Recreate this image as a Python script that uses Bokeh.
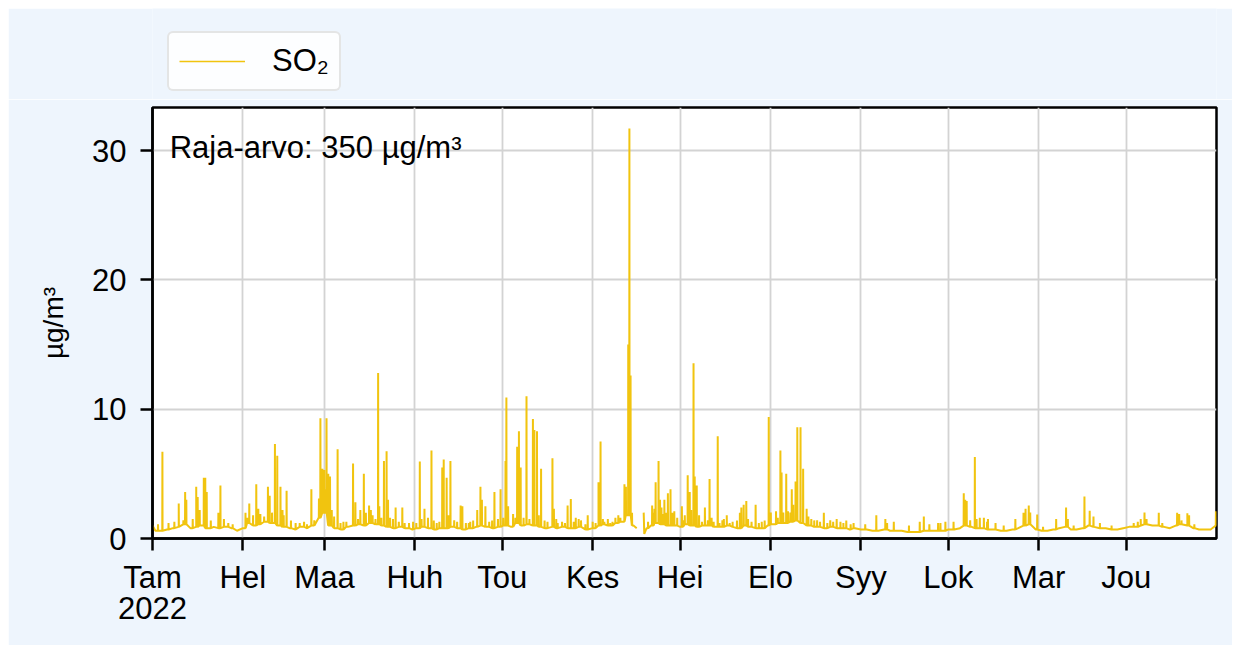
import numpy as np
from bokeh.plotting import figure
from bokeh.layouts import column
from bokeh.models import Range1d, FixedTicker, Label, Legend, LegendItem, ColumnDataSource
from bokeh.embed import file_html
from bokeh.resources import INLINE

# ---------------- data (day of year 2022, 0 = 1 Jan) ----------------
month_labels = ["Tam", "Hel", "Maa", "Huh", "Tou", "Kes", "Hei", "Elo", "Syy", "Lok", "Mar", "Jou"]
month_start_day = [0, 31, 59, 90, 120, 151, 181, 212, 243, 273, 304, 334]
year_label = "2022"
y_ticks = [0, 10, 20, 30]

# slowly varying background level (NaN = missing data)
base_day = [0, 1, 3, 5, 7, 9, 11, 13, 15, 17, 19, 21, 23, 25, 27, 29,
            31, 33, 35, 37, 39, 41, 43, 45, 47, 49, 51, 53, 55, 57,
            59, 61, 63, 65, 67, 69, 71, 73, 75, 77, 79, 81, 83, 85, 87, 89,
            91, 93, 95, 97, 99, 101, 103, 105, 107, 109, 111, 113, 115, 117, 119,
            121, 123, 125, 127, 129, 131, 133, 135, 137, 139, 141, 143, 145, 147, 149,
            151, 153, 155, 157, 159, 161, 163, 165, 166.1, 166.4, 168.5, 168.7, 169.5,
            171, 173, 175, 177, 179, 181, 183, 185, 187, 189, 191, 193, 195, 197, 199,
            201, 203, 205, 207, 209, 211, 213, 215, 217, 219, 221, 223, 225, 227, 229,
            231, 233, 235, 237, 239, 241, 243, 245, 247, 249, 251, 253, 255, 257, 259,
            261, 263, 265, 267, 269, 271, 273, 275, 277, 279, 281, 283, 285, 287, 289,
            291, 293, 295, 297, 299, 301, 303, 305, 307, 309, 311, 313, 315, 317, 319,
            321, 323, 325, 327, 329, 331, 333, 335, 337, 339, 341, 343, 345, 347, 349,
            351, 353, 355, 357, 359, 361, 363, 365]
base_val = [1.0, 0.6, 0.6, 0.7, 0.8, 0.9, 1.1, 0.8, 0.9, 1.0, 0.8, 0.9, 0.8, 0.9, 0.8, 0.6,
            0.8, 1.2, 1.0, 1.1, 1.3, 1.2, 1.0, 0.9, 0.8, 0.7, 0.9, 0.8, 1.0, 1.6,
            2.0, 1.0, 0.8, 0.7, 0.9, 1.0, 1.1, 1.0, 1.2, 1.1, 1.0, 0.9, 0.8, 0.9, 0.8, 0.7,
            0.8, 0.9, 0.8, 0.7, 0.8, 0.8, 0.9, 0.8, 0.7, 0.8, 0.9, 1.0, 0.9, 0.8, 0.9,
            1.0, 0.9, 1.2, 1.0, 1.1, 1.0, 0.9, 0.8, 0.9, 0.8, 0.9, 0.8, 0.8, 0.9, 0.7,
            0.8, 1.0, 1.1, 1.0, 1.2, 1.3, 1.8, 1.0, 0.8, float("nan"), 2.0, 0.35, 0.8,
            1.0, 1.2, 1.1, 1.0, 1.0, 0.9, 1.1, 1.0, 0.9, 1.0, 1.0, 0.9, 0.9, 1.0, 0.9,
            0.8, 1.0, 0.9, 0.8, 0.8, 1.0, 1.1, 1.2, 1.2, 1.3, 1.4, 1.2, 1.0, 0.9, 0.9,
            0.8, 0.9, 0.8, 0.8, 0.7, 0.8, 0.7, 0.7, 0.6, 0.6, 0.7, 0.6, 0.6, 0.6, 0.5,
            0.5, 0.5, 0.6, 0.6, 0.6, 0.6, 0.7, 0.7, 0.8, 1.0, 0.9, 0.8, 0.8, 0.7, 0.7,
            0.6, 0.6, 0.7, 0.8, 1.0, 1.1, 0.7, 0.6, 0.6, 0.7, 0.8, 0.9, 0.7, 0.7, 0.8,
            1.0, 0.9, 0.8, 0.8, 0.7, 0.7, 0.8, 0.9, 0.9, 1.0, 1.1, 1.0, 1.0, 0.9, 0.8,
            1.0, 1.1, 1.0, 0.8, 0.7, 0.7, 0.7, 1.0]

# short hourly peaks
peak_day = [3.4, 9.0, 10.6, 11.2, 11.6, 13.8, 15.0, 15.5, 16.2, 17.6, 18.1, 18.6, 22.6, 23.3, 26.0,
            31.9, 33.2, 35.6, 36.3, 38.3, 39.6, 40.2, 41.0, 42.0, 42.8, 43.9, 44.6, 46.0, 49.1, 52.0, 54.5,
            57.1, 57.6, 58.3, 58.9, 59.2, 59.7, 60.3, 60.9, 62.3, 63.5, 65.5, 68.8, 69.6, 71.3, 72.5,
            73.2, 74.3, 74.9, 76.5, 77.4, 77.8, 79.4, 80.3, 80.8, 81.5, 83.4, 85.7, 88.0,
            89.4, 91.7, 92.3, 93.3, 94.5, 95.7, 98.4, 99.4, 99.9, 100.9, 102.2, 103.5, 105.7, 106.3,
            108.5, 110.0, 111.4, 112.5, 113.0, 114.2, 115.5, 117.3, 119.4,
            121.1, 121.4, 122.0, 123.7, 125.1, 125.7, 126.3, 127.3, 128.3, 129.3, 130.5, 131.0, 131.9,
            133.3, 134.5, 137.2, 137.7, 139.0, 140.5, 142.4, 143.5, 145.2, 147.0, 149.3,
            151.0, 153.0, 153.7, 154.5, 156.2, 157.8, 158.8, 159.8, 161.9, 162.4, 163.2, 163.6, 164.0, 164.5,
            171.4, 171.9, 172.6, 173.6, 174.1, 174.6, 175.6, 176.2, 176.8, 177.7, 178.3, 179.0, 180.0,
            181.6, 182.6, 183.6, 184.3, 185.6, 186.0, 186.7, 187.5, 189.5, 191.1, 191.8, 193.9, 195.5,
            197.0, 199.0, 201.5, 202.0, 202.8, 203.7, 204.3, 206.9, 209.0,
            211.4, 212.1, 213.9, 215.4, 215.8, 216.4, 217.4, 218.0, 219.3, 220.6, 221.2, 222.3, 223.2,
            224.4, 226.0, 228.0, 230.3, 232.5, 234.7, 236.0, 238.0, 240.5,
            244.5, 248.3, 251.4, 252.0, 254.3, 259.5, 263.2, 264.6, 266.5, 269.5, 270.3, 272.0,
            274.8, 278.3, 278.8, 279.3, 280.5, 282.1, 282.7, 283.8, 285.2, 286.3, 286.6, 289.2, 292.0,
            296.0, 298.8, 299.5, 300.6, 301.1,
            303.5, 305.5, 310.0, 313.4, 314.0, 316.0, 319.7, 321.5, 322.8, 325.0, 329.0,
            336.6, 338.0, 339.0, 340.3, 341.0, 345.2, 346.4, 351.5, 352.2, 353.0, 355.0, 355.6, 357.4, 364.8]
peak_val = [6.7, 2.7, 1.4, 3.6, 3.0, 1.5, 4.0, 3.2, 2.2, 4.7, 4.7, 3.6, 2.0, 4.1, 1.2,
            2.0, 2.7, 4.2, 2.3, 1.7, 4.0, 3.3, 2.0, 7.3, 6.4, 4.0, 2.2, 3.7, 1.2, 1.3, 3.8,
            3.1, 9.3, 5.4, 5.3, 3.8, 9.3, 5.0, 4.8, 1.7, 6.9, 1.3, 5.8, 2.8, 2.2, 5.0,
            2.0, 2.55, 2.2, 1.5, 12.8, 2.5, 6.0, 6.75, 3.0, 1.6, 2.4, 2.4, 1.2,
            1.3, 5.95, 1.5, 2.3, 1.6, 6.8, 1.3, 5.5, 6.1, 4.7, 6.0, 1.4, 2.55, 2.5,
            1.2, 1.4, 2.2, 4.0, 3.0, 2.5, 1.3, 3.6, 3.8,
            6.0, 10.9, 2.5, 1.9, 7.1, 8.3, 5.5, 1.6, 11.0, 1.5, 9.25, 8.4, 8.3,
            5.4, 1.4, 6.2, 2.3, 1.2, 1.3, 2.55, 3.05, 1.6, 1.4, 1.8,
            1.3, 4.35, 7.5, 1.5, 1.5, 1.3, 1.6, 1.8, 4.2, 4.0, 15.0, 31.7, 12.6, 2.0,
            2.55, 2.0, 4.35, 6.0, 3.0, 2.4, 3.0, 2.0, 3.5, 3.8, 2.0, 2.1, 1.6,
            2.5, 1.8, 4.9, 3.6, 13.55, 4.8, 4.1, 1.8, 2.4, 4.6, 1.6, 7.9, 1.4,
            1.8, 1.3, 2.0, 2.4, 2.6, 2.9, 1.5, 2.6, 1.3,
            9.4, 2.0, 2.1, 6.8, 5.1, 2.0, 5.0, 2.1, 3.8, 4.4, 8.6, 8.6, 5.4,
            2.3, 1.5, 1.4, 2.0, 1.4, 1.5, 1.3, 1.4, 1.2,
            1.1, 1.8, 1.5, 1.2, 1.3, 1.0, 1.3, 1.7, 1.1, 1.2, 1.2, 1.3,
            1.3, 3.5, 3.0, 2.9, 1.4, 6.3, 1.5, 1.6, 1.6, 1.3, 1.5, 1.2, 1.0,
            1.5, 2.0, 2.3, 2.55, 2.0,
            1.85, 0.9, 1.5, 2.4, 1.5, 1.0, 3.25, 2.15, 1.7, 1.2, 1.0,
            1.2, 1.3, 1.5, 2.0, 1.5, 2.0, 1.2, 2.0, 1.9, 1.4, 1.95, 1.8, 1.1, 2.1]

# small fluctuations in the background band
minor_day = [1.9, 5.5, 7.5, 20.0, 24.5, 27.5,
             32.5, 34.5, 37.0, 45.0, 47.5, 50.5, 53.0, 55.5,
             61.5, 64.5, 66.5, 70.5, 75.5, 78.5, 82.5, 84.5, 86.5,
             90.5, 96.5, 97.5, 101.5, 104.5, 107.5, 109.0, 116.5, 118.5,
             120.3, 124.5, 132.5, 135.5, 138.5, 141.5, 144.5, 146.2, 148.5,
             152.0, 155.0, 157.0, 160.5, 170.0, 172.2, 175.0, 178.9,
             182.0, 184.8, 188.5, 190.5, 192.5, 194.5, 196.0, 198.0, 200.5, 205.5, 208.0, 210.0,
             214.5, 218.8, 219.8, 225.0, 227.0, 229.0, 231.5, 233.5, 237.0, 239.5]
minor_val = [1.1, 1.2, 1.3, 1.4, 1.5, 1.1,
             1.6, 1.8, 1.9, 1.8, 1.4, 1.2, 1.1, 1.4,
             2.2, 1.2, 1.3, 1.5, 1.8, 1.6, 1.5, 1.3, 1.2,
             1.2, 1.4, 1.2, 1.8, 1.3, 1.2, 1.3, 1.4, 1.5,
             1.6, 1.6, 1.8, 1.3, 1.5, 1.2, 1.3, 1.5, 1.1,
             1.2, 1.3, 1.2, 1.6, 1.3, 2.3, 1.9, 1.5,
             1.4, 2.2, 1.3, 1.4, 1.3, 1.2, 1.5, 1.2, 1.4, 1.3, 1.2, 1.4,
             1.6, 2.0, 2.6, 1.7, 1.4, 1.3, 1.2, 1.3, 1.2, 1.1]

series_label = "SO\u2082"
limit_text = "Raja-arvo: 350 \u00b5g/m\u00b3"
y_label = "\u00b5g/m\u00b3"

# ---------------- assemble series ----------------
bd = np.array(base_day, dtype=float)
bv = np.array(base_val, dtype=float)
valid_idx = np.where(~np.isnan(bv))[0]
pts = list(zip(bd.tolist(), bv.tolist()))
for d, v in list(zip(peak_day, peak_val)) + list(zip(minor_day, minor_val)):
    j = valid_idx[np.argmin(np.abs(bd[valid_idx] - d))]
    b = float(bv[j])
    pts += [(d - 0.05, b), (d, v), (d + 0.05, b)]
pts.sort(key=lambda t: t[0])
src = ColumnDataSource(dict(x=[q[0] for q in pts], y=[q[1] for q in pts]))

# ---------------- styling constants ----------------
FONT = "Liberation Sans"
FS = "31px"
LINE_COLOR = "#f1c40f"
LW = 2.0
BG = "#eef5fd"
W = 1224

# ---------------- main chart ----------------
p = figure(width=W, height=546, output_backend="svg", toolbar_location=None,
           x_range=Range1d(0, 365), y_range=Range1d(0, 33.33),
           min_border_left=144, min_border_right=16, min_border_top=8, min_border_bottom=107)
p.border_fill_color = BG
p.background_fill_color = "white"
p.outline_line_color = "black"
p.outline_line_width = 2.5

r = p.line("x", "y", source=src, line_color=LINE_COLOR, line_width=LW)

for ax in (p.xaxis[0], p.yaxis[0]):
    ax.axis_line_color = "black"
    ax.axis_line_width = 2.5
    ax.major_tick_line_color = "black"
    ax.major_tick_line_width = 2.5
    ax.major_tick_in = 0
    ax.major_tick_out = 12
    ax.minor_tick_line_color = None
    ax.major_label_text_font = FONT
    ax.major_label_text_font_size = FS
    ax.major_label_text_color = "black"

p.xaxis.ticker = FixedTicker(ticks=month_start_day)
overrides = {d: lab for d, lab in zip(month_start_day, month_labels)}
overrides[month_start_day[0]] = month_labels[0] + "\n" + year_label
p.xaxis.major_label_overrides = overrides
p.xaxis.major_label_standoff = 9
p.xaxis.major_label_text_line_height = 0.9

p.yaxis.ticker = FixedTicker(ticks=y_ticks)
p.yaxis.major_label_standoff = 14
p.yaxis.axis_label = y_label
p.yaxis.axis_label_text_font = FONT
p.yaxis.axis_label_text_font_size = "28px"
p.yaxis.axis_label_text_font_style = "normal"
p.yaxis.axis_label_text_color = "black"
p.yaxis.axis_label_standoff = 20

p.xgrid.ticker = FixedTicker(ticks=month_start_day)
p.ygrid.ticker = FixedTicker(ticks=y_ticks)
for g in (p.xgrid[0], p.ygrid[0]):
    g.grid_line_color = "#d3d3d3"
    g.grid_line_width = 1.8

p.add_layout(Label(x=5.9, y=30.24, text=limit_text, text_font=FONT, text_font_size=FS,
                   text_color="black", text_baseline="alphabetic"))

# ---------------- legend strip above the chart ----------------
top = figure(width=W, height=91, output_backend="svg", toolbar_location=None,
             x_axis_type=None, y_axis_type=None,
             x_range=Range1d(0, 365), y_range=Range1d(0, 33.33),
             min_border_left=0, min_border_right=0, min_border_top=0, min_border_bottom=0)
top.border_fill_color = BG
top.background_fill_color = BG
top.outline_line_color = None
top.xgrid.visible = False
top.ygrid.visible = False
# legend key renderer, kept outside the visible range
key = top.line(x=[-20, -10], y=[-20, -20], line_color=LINE_COLOR, line_width=1.6)

legend = Legend(items=[LegendItem(label=series_label, renderers=[key])],
                location=(15, 8), orientation="vertical",
                label_text_font=FONT, label_text_font_size=FS, label_text_color="black",
                glyph_width=66, label_standoff=27, padding=10, margin=0,
                border_line_color="#cccccc", border_line_width=2,
                background_fill_color="white", background_fill_alpha=0.85)
if hasattr(Legend, "border_radius"):
    legend.border_radius = 6
top.add_layout(legend, "center")

layout = column(top, p, spacing=0)
layout.styles = {"margin-left": "8px", "margin-top": "8px"}

open("out.html", "w").write(file_html(layout, INLINE))
